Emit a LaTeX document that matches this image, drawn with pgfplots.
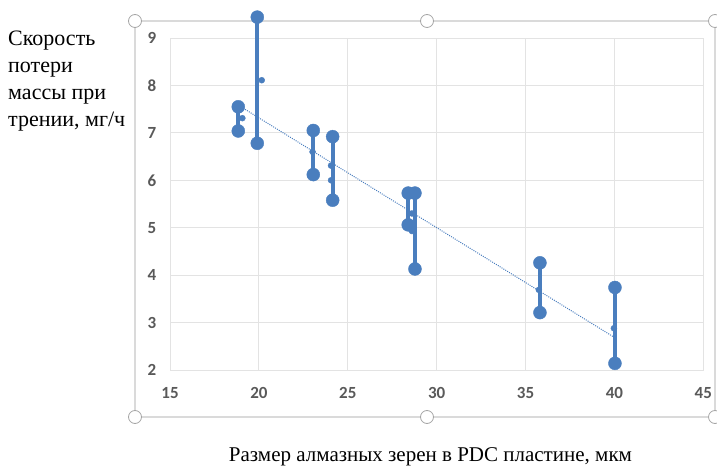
\documentclass[border=0pt]{standalone}
\usepackage{fontspec}
\setmainfont{Liberation Serif}
\newfontfamily\calibri{Carlito}
\usepackage{pgfplots}
\pgfplotsset{compat=1.18}
\definecolor{ser}{HTML}{4A7EBE}
\definecolor{gridc}{HTML}{E3E3E3}
\definecolor{framec}{HTML}{DADADA}
\definecolor{tickc}{HTML}{595959}
\begin{document}
\begin{tikzpicture}
\useasboundingbox (-170pt,-98pt) rectangle (547pt,370pt);
% chart frame with handles
\draw[framec, line width=2.5pt] (-35pt,349pt) rectangle (545pt,-47pt);
\foreach \p in {(-35pt,349pt),(257pt,349pt),(545pt,349pt),(-35pt,-47pt),(257pt,-47pt),(545pt,-47pt)}
  \draw[fill=white, draw=gray!70, line width=0.8pt] \p circle (6.5pt);
\begin{axis}[
  at={(0pt,0pt)}, anchor=south west,
  scale only axis, width=533.3pt, height=332pt,
  xmin=15, xmax=45, ymin=2, ymax=9,
  xtick={15,20,...,45}, ytick={2,3,...,9},
  grid=major, grid style={gridc, line width=0.8pt},
  axis line style={gridc, line width=0.8pt},
  major tick length=0pt,
  clip=false,
  tick label style={font=\calibri\fontsize{17}{20}\selectfont\bfseries, text=tickc},
  /pgf/number format/assume math mode=true,
  yticklabel style={anchor=center, xshift=-18pt},
  xticklabel style={anchor=center, yshift=-23pt},
]
\pgfplotsset{bigbar/.style={ser, line width=4pt, mark=*, mark size=6.5pt, mark options={solid, fill=ser, line width=0.4pt}},
             small/.style={ser, only marks, mark=*, mark size=3pt, mark options={fill=ser, line width=0.4pt}}}
\addplot[bigbar] coordinates {(18.84,7.55) (18.84,7.04)};
\addplot[bigbar] coordinates {(19.91,9.44) (19.91,6.78)};
\addplot[bigbar] coordinates {(23.06,7.05) (23.06,6.12)};
\addplot[bigbar] coordinates {(24.15,6.92) (24.15,5.58)};
\addplot[bigbar] coordinates {(28.40,5.73) (28.40,5.06)};
\addplot[bigbar] coordinates {(28.78,5.73) (28.78,4.13)};
\addplot[bigbar] coordinates {(35.81,4.26) (35.81,3.21)};
\addplot[bigbar] coordinates {(40.03,3.74) (40.03,2.14)};
\addplot[small] coordinates {(19.07,7.31) (20.16,8.11) (23.02,6.60) (24.06,6.31) (24.06,6.00) (28.61,5.30) (28.61,4.93) (35.75,3.69) (39.97,2.88)};
\addplot[ser, line width=1pt, dash pattern=on 1pt off 1.2pt] coordinates {(19.12,7.52) (40.03,2.68)};
\end{axis}
\node[anchor=north west, align=left, font=\fontsize{22}{27}\selectfont, inner sep=0pt] at (-162pt,339pt)
  {Скорость\\потери\\массы при\\трении, мг/ч};
\node[anchor=base, font=\fontsize{21}{26}\selectfont, inner sep=0pt] at (260.5pt,-92pt)
  {Размер алмазных зерен в PDC пластине, мкм};
\end{tikzpicture}
\end{document}
